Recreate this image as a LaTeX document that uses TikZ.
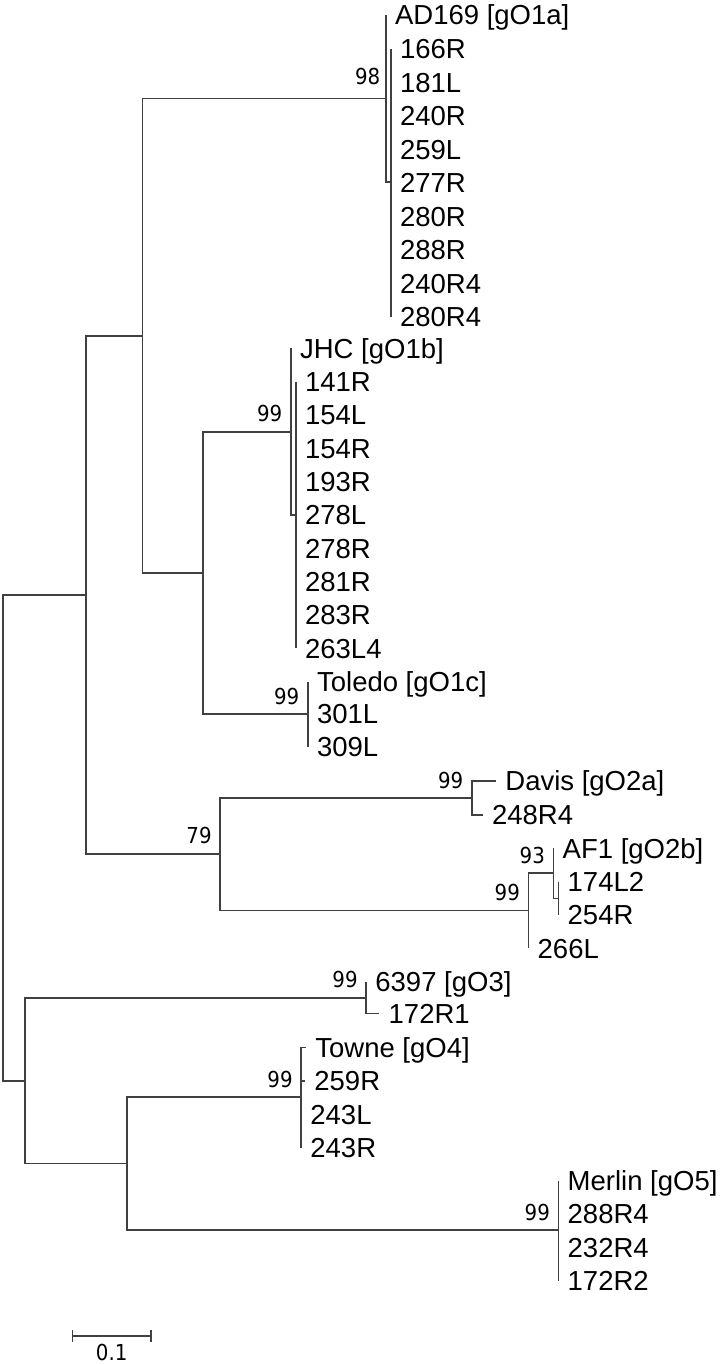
\documentclass[tikz,border=0pt]{standalone}
\usepackage{fontspec}
\setmainfont{Liberation Sans}
\newfontfamily\bootfont[FakeStretch=0.9]{DejaVu Sans}
\usepackage{tikz}
\usetikzlibrary{arrows.meta}
\tikzset{>=latex}
\tikzset{
  branch/.style={draw=black!75, line width=0.8pt},
  taxon/.style={anchor=west, inner xsep=4.5pt, inner ysep=0pt, text height=9.85pt, text depth=0pt, font=\fontsize{13.75}{15}\selectfont},
  boot/.style={anchor=east, inner sep=0pt, xshift=-4pt, yshift=9pt, text height=8pt, text depth=0pt, font=\bootfont\fontsize{11}{12}\selectfont},
  scalelabel/.style={inner sep=0pt, text height=8pt, text depth=0pt, font=\bootfont\fontsize{11}{12}\selectfont}
}

\begin{document}
\begin{tikzpicture}[x=0.5pt,y=-0.5pt]
    \useasboundingbox (0,0) rectangle (724,1365);
    % inner nodes of the tree
    \coordinate (root) at (3,837.7);
    \coordinate (nA) at (85.7,594.7);
    \coordinate (nB) at (142.3,336);
    \coordinate (n1a) at (385.7,98.5);
    \coordinate (n1ai) at (390.7,181.7);
    \coordinate (nD) at (202.7,573);
    \coordinate (n1b) at (290.7,431.7);
    \coordinate (n1bi) at (295.7,515);
    \coordinate (n1c) at (307.7,714);
    \coordinate (nG) at (220,853.8);
    \coordinate (n2a) at (471.7,798);
    \coordinate (n2b) at (528.3,910.5);
    \coordinate (n2bi) at (553.3,873);
    \coordinate (n2bii) at (558.3,898.3);
    \coordinate (nL) at (24.7,1080.7);
    \coordinate (n3) at (366,997.7);
    \coordinate (nN) at (127,1163.3);
    \coordinate (n4) at (301,1097);
    \coordinate (n5) at (558.3,1230);
    % gO1a
    \node[taxon] (tAD) at (385.7,15) {AD169 [gO1a]};
    \node[taxon] (t166R) at (390.7,49) {166R};
    \node[taxon] (t181L) at (390.7,82.5) {181L};
    \node[taxon] (t240R) at (390.7,115.9) {240R};
    \node[taxon] (t259L) at (390.7,149.4) {259L};
    \node[taxon] (t277R) at (390.7,182.8) {277R};
    \node[taxon] (t280R) at (390.7,216.3) {280R};
    \node[taxon] (t288R) at (390.7,249.8) {288R};
    \node[taxon] (t240R4) at (390.7,283.2) {240R4};
    \node[taxon] (t280R4) at (390.7,316.7) {280R4};
    % gO1b
    \node[taxon] (tJHC) at (290.7,348.3) {JHC [gO1b]};
    \node[taxon] (t141R) at (295.7,381.7) {141R};
    \node[taxon] (t154L) at (295.7,415) {154L};
    \node[taxon] (t154R) at (295.7,448.3) {154R};
    \node[taxon] (t193R) at (295.7,481.7) {193R};
    \node[taxon] (t278L) at (295.7,515) {278L};
    \node[taxon] (t278R) at (295.7,548.3) {278R};
    \node[taxon] (t281R) at (295.7,581.7) {281R};
    \node[taxon] (t283R) at (295.7,615) {283R};
    \node[taxon] (t263L4) at (295.7,648.3) {263L4};
    % gO1c
    \node[taxon] (tToledo) at (307.7,681.7) {Toledo [gO1c]};
    \node[taxon] (t301L) at (307.7,714) {301L};
    \node[taxon] (t309L) at (307.7,747) {309L};
    % gO2a, gO2b
    \node[taxon] (tDavis) at (496,781) {Davis [gO2a]};
    \node[taxon] (t248R4) at (482.7,815) {248R4};
    \node[taxon] (tAF1) at (553.3,848.3) {AF1 [gO2b]};
    \node[taxon] (t174L2) at (558.3,881.7) {174L2};
    \node[taxon] (t254R) at (558.3,915) {254R};
    \node[taxon] (t266L) at (528.3,948.3) {266L};
    % gO3, gO4, gO5
    \node[taxon] (t6397) at (366,981.7) {6397 [gO3]};
    \node[taxon] (t172R1) at (379.3,1013.3) {172R1};
    \node[taxon] (tTowne) at (306,1047.3) {Towne [gO4]};
    \node[taxon] (t259R) at (305,1080.8) {259R};
    \node[taxon] (t243L) at (301,1114.2) {243L};
    \node[taxon] (t243R) at (301,1147.7) {243R};
    \node[taxon] (tMerlin) at (558.3,1180.7) {Merlin [gO5]};
    \node[taxon] (t288R4) at (558.3,1214) {288R4};
    \node[taxon] (t232R4) at (558.3,1247.4) {232R4};
    \node[taxon] (t172R2) at (558.3,1280.7) {172R2};
    % branches
    \draw[branch] (nA) -| (root) |- (nL);
    \draw[branch] (nB) -| (nA) |- (nG);
    \draw[branch] (n1a) -| (nB) |- (nD);
    \draw[branch] (tAD.west) -| (n1a) |- (n1ai);
    \draw[branch] (t166R.west) -| (n1ai) |- (t280R4.west);
    \draw[branch] (n1b) -| (nD) |- (n1c);
    \draw[branch] (tJHC.west) -| (n1b) |- (n1bi);
    \draw[branch] (t141R.west) -| (n1bi) |- (t263L4.west);
    \draw[branch] (tToledo.west) -| (n1c) |- (t309L.west);
    \draw[branch] (n2a) -| (nG) |- (n2b);
    \draw[branch] (tDavis.west) -| (n2a) |- (t248R4.west);
    \draw[branch] (n2bi) -| (n2b) |- (t266L.west);
    \draw[branch] (tAF1.west) -| (n2bi) |- (n2bii);
    \draw[branch] (t174L2.west) -| (n2bii) |- (t254R.west);
    \draw[branch] (n3) -| (nL) |- (nN);
    \draw[branch] (t6397.west) -| (n3) |- (t172R1.west);
    \draw[branch] (n4) -| (nN) |- (n5);
    \draw[branch] (tTowne.west) -| (n4) |- (t243R.west);
    \draw[branch] (n4 |- t259R.west) -- (t259R.west);
    \draw[branch] (tMerlin.west) -| (n5) |- (t172R2.west);
    % bootstrap values
    \node[boot, xshift=1.5pt, yshift=2pt] (b1a) at (n1a) {98};
    \node[boot] (b1b) at (n1b) {99};
    \node[boot] (b1c) at (n1c) {99};
    \node[boot] (bG) at (nG) {79};
    \node[boot] (b2a) at (n2a) {99};
    \node[boot] (b2b) at (n2b) {99};
    \node[boot] (b2bi) at (n2bi) {93};
    \node[boot] (b3) at (n3) {99};
    \node[boot] (b4) at (n4) {99};
    \node[boot] (b5) at (n5) {99};
    % scale bar
    \coordinate (sbL) at (71.7,1336);
    \coordinate (sbR) at (151.7,1336);
    \draw[branch, {Bar[width=5.7pt]}-{Bar[width=5.7pt]}] (sbL) -- (sbR);
    \node[scalelabel] (sbT) at (111.7,1352) {0.1};
\end{tikzpicture}
\end{document}
